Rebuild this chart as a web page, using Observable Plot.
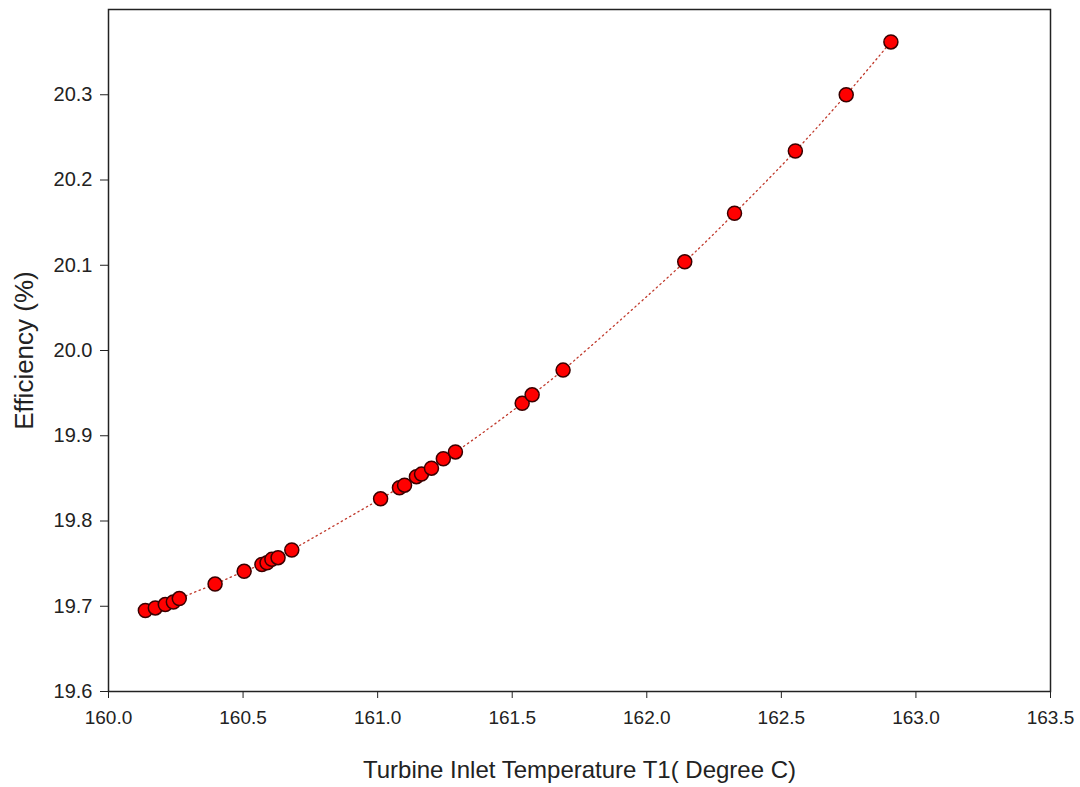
<!DOCTYPE html>
<html>
<head>
<meta charset="utf-8">
<script src="https://cdn.jsdelivr.net/npm/d3@7"></script>
<script src="https://cdn.jsdelivr.net/npm/@observablehq/plot@0.6"></script>
<style>
  html, body { margin: 0; padding: 0; background: #fff; }
  #chart svg { font-family: "Liberation Sans", Arial, sans-serif; }
  g[aria-label="x-axis label"] text { font-size: 24px; }
  g[aria-label="y-axis label"] text { font-size: 26px; }
</style>
</head>
<body>
<div id="chart"></div>
<script>
const temperature = [160.137, 160.174, 160.211, 160.241, 160.263, 160.396, 160.504, 160.570, 160.589, 160.607, 160.630, 160.681,
  161.011, 161.081, 161.100, 161.144, 161.163, 161.200, 161.244, 161.289, 161.537, 161.574, 161.689,
  162.141, 162.326, 162.552, 162.741, 162.907];
const efficiency = [19.695, 19.698, 19.702, 19.705, 19.709, 19.726, 19.741, 19.749, 19.751, 19.755, 19.757, 19.766,
  19.826, 19.839, 19.842, 19.852, 19.855, 19.862, 19.873, 19.881, 19.938, 19.948, 19.977,
  20.104, 20.161, 20.234, 20.300, 20.362];
const xTicks = [160.0, 160.5, 161.0, 161.5, 162.0, 162.5, 163.0, 163.5];
const yTicks = [19.6, 19.7, 19.8, 19.9, 20.0, 20.1, 20.2, 20.3];

const data = temperature.map((t, i) => ({t, e: efficiency[i]}));

const chart = Plot.plot({
  width: 1080,
  height: 787,
  marginLeft: 108,
  marginRight: 30,
  marginTop: 9,
  marginBottom: 96,
  style: {fontSize: "19px", fontFamily: "Liberation Sans, Arial, sans-serif", color: "#222"},
  x: {domain: [160, 163.5]},
  y: {domain: [19.6, 20.4]},
  marks: [
    Plot.frame({stroke: "#222", strokeWidth: 1.5}),
    Plot.axisX({ticks: xTicks, tickFormat: d3.format(".1f"), tickSize: 7, tickPadding: 12, tickStrokeWidth: 1.2, fontSize: 19,
      label: "Turbine Inlet Temperature T1( Degree C)", labelAnchor: "center", labelArrow: "none", labelOffset: 86}),
    Plot.axisY({ticks: yTicks, tickFormat: d3.format(".1f"), tickSize: 8, tickPadding: 8, tickStrokeWidth: 1.2, fontSize: 20,
      label: "Efficiency (%)", labelAnchor: "center", labelArrow: "none", labelOffset: 94}),
    Plot.line(data, {x: "t", y: "e", stroke: "#c0392b", strokeWidth: 1.3, strokeDasharray: "1.3,3.5", curve: "catmull-rom"}),
    Plot.dot(data, {x: "t", y: "e", r: 7, fill: "#ff0000", stroke: "#3a0000", strokeWidth: 1.5})
  ]
});
document.getElementById("chart").appendChild(chart);
</script>
</body>
</html>
